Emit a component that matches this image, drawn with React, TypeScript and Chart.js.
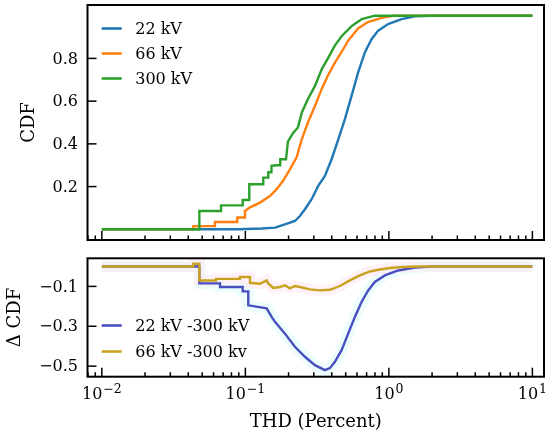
import React, { useEffect, useRef } from 'react';
import { Chart, registerables } from 'chart.js';

Chart.register(...registerables);

const SERIF = '"DejaVu Serif", "Bitstream Vera Serif", "Liberation Serif", serif';

// ---- Top panel: CDF of THD (percent) ----
const thd22: number[] = [0.01, 0.09, 0.13, 0.1608, 0.1887, 0.2215, 0.24, 0.2601, 0.2896, 0.3218, 0.3584, 0.399, 0.4436, 0.4938, 0.5497, 0.6109, 0.6803, 0.7573, 0.8419, 0.9883, 1.225, 1.516, 1.981, 10];
const cdf22: number[] = [0, 0, 0.004, 0.008, 0.023, 0.039, 0.062, 0.094, 0.141, 0.203, 0.25, 0.328, 0.42, 0.516, 0.625, 0.735, 0.828, 0.89, 0.93, 0.961, 0.984, 0.997, 1.0, 1.0];

const thd66: number[] = [0.01, 0.0434, 0.0434, 0.0614, 0.0614, 0.0879, 0.0879, 0.0994, 0.0994, 0.1077, 0.1264, 0.1484, 0.1652, 0.1827, 0.2044, 0.2277, 0.2467, 0.273, 0.3053, 0.34, 0.376, 0.4207, 0.4684, 0.52, 0.61, 0.714, 0.893, 1.1, 10];
const cdf66: number[] = [0, 0, 0.015, 0.015, 0.034, 0.034, 0.055, 0.055, 0.086, 0.103, 0.125, 0.156, 0.188, 0.226, 0.281, 0.337, 0.42, 0.5, 0.577, 0.656, 0.72, 0.78, 0.83, 0.883, 0.94, 0.97, 0.99, 1.0, 1.0];

const thd300: number[] = [0.01, 0.0478, 0.0478, 0.0677, 0.0677, 0.0958, 0.0958, 0.1065, 0.1065, 0.1333, 0.1333, 0.1444, 0.1444, 0.152, 0.152, 0.165, 0.175, 0.175, 0.192, 0.198, 0.2145, 0.2325, 0.248, 0.273, 0.305, 0.341, 0.376, 0.42, 0.47, 0.552, 0.648, 0.798, 10];
const cdf300: number[] = [0, 0, 0.086, 0.086, 0.112, 0.112, 0.137, 0.137, 0.211, 0.211, 0.242, 0.242, 0.267, 0.267, 0.297, 0.3, 0.3, 0.328, 0.328, 0.41, 0.45, 0.477, 0.548, 0.61, 0.67, 0.75, 0.8, 0.86, 0.905, 0.952, 0.984, 1.0, 1.0];

// ---- Bottom panel: difference of CDFs ----
const thdD22: number[] = [0.01, 0.0478, 0.0478, 0.0666, 0.0666, 0.0958, 0.0958, 0.1048, 0.1048, 0.1408, 0.1525, 0.1608, 0.1887, 0.2215, 0.2601, 0.3053, 0.3584, 0.3883, 0.4207, 0.4684, 0.5205, 0.5796, 0.6452, 0.7173, 0.7986, 0.9374, 1.16, 1.516, 1.981, 10];
const dCdf22: number[] = [0, 0, -0.085, -0.085, -0.103, -0.103, -0.125, -0.125, -0.195, -0.21, -0.253, -0.278, -0.337, -0.403, -0.453, -0.495, -0.52, -0.51, -0.478, -0.42, -0.337, -0.253, -0.178, -0.12, -0.078, -0.045, -0.02, -0.006, 0, 0];

const thdD66: number[] = [0.01, 0.0434, 0.0434, 0.0478, 0.0478, 0.0625, 0.0625, 0.0918, 0.0918, 0.1077, 0.1077, 0.1264, 0.1408, 0.1444, 0.1565, 0.1742, 0.1887, 0.2044, 0.2215, 0.24, 0.2818, 0.3307, 0.3883, 0.4558, 0.535, 0.6279, 0.737, 0.865, 1.016, 1.251, 1.6, 10];
const dCdf66: number[] = [0, 0, 0.014, 0.014, -0.07, -0.07, -0.062, -0.062, -0.053, -0.053, -0.082, -0.087, -0.07, -0.085, -0.108, -0.103, -0.095, -0.11, -0.098, -0.103, -0.115, -0.12, -0.117, -0.098, -0.07, -0.045, -0.025, -0.015, -0.008, -0.003, 0, 0];

// ---- Labels / ticks ----
const topSeriesLabels = ['22 kV', '66 kV', '300 kV'];
const bottomSeriesLabels = ['22 kV -300 kV', '66 kV -300 kv'];
const xMajorTicks: number[] = [0.01, 0.1, 1, 10];
const xTickExponents: string[] = ['\u22122', '\u22121', '0', '1'];
const topYTicks: number[] = [0.2, 0.4, 0.6, 0.8];
const bottomYTicks: number[] = [-0.1, -0.3, -0.5];
const xTitle = 'THD (Percent)';
const topYTitle = 'CDF';
const bottomYTitle = '\u0394 CDF';

const C22 = '#1f77b4';
const C66 = '#ff7f0e';
const C300 = '#2ca02c';
const CD22 = '#4a4fc0';
const CD66 = '#c9a21f';

const X_MIN = Math.pow(10, -2.1);
const X_MAX = Math.pow(10, 1.081);

const pairs = (xs: number[], ys: number[]) => xs.map((x, i) => ({ x, y: ys[i] }));

type Decor = {
  yTicks: number[];
  yTitle: string;
  yTitleX: number;
  showXLabels: boolean;
  legend: { label: string; color: string }[];
  legendY0: number;
  legendDy: number;
};

function makeDecor(d: Decor) {
  return {
    id: 'decor',
    afterDraw(chart: any) {
      const { ctx, chartArea: a, scales } = chart;
      const xs = scales.x;
      const ys = scales.y;
      ctx.save();
      // frame
      ctx.strokeStyle = '#000';
      ctx.lineWidth = 2;
      ctx.strokeRect(a.left, a.top, a.right - a.left, a.bottom - a.top);
      // x ticks (inward)
      ctx.lineWidth = 1.5;
      for (let e = -3; e <= 1; e++) {
        for (let k = 1; k <= 9; k++) {
          const v = k * Math.pow(10, e);
          if (v < xs.min || v > xs.max) continue;
          const px = xs.getPixelForValue(v);
          const len = k === 1 ? 9 : 4.5;
          ctx.beginPath();
          ctx.moveTo(px, a.bottom);
          ctx.lineTo(px, a.bottom - len);
          ctx.stroke();
        }
      }
      // y ticks (inward) + labels
      ctx.fillStyle = '#000';
      ctx.font = `16px ${SERIF}`;
      ctx.textAlign = 'right';
      ctx.textBaseline = 'middle';
      d.yTicks.forEach((v) => {
        const py = ys.getPixelForValue(v);
        ctx.beginPath();
        ctx.moveTo(a.left, py);
        ctx.lineTo(a.left + 9, py);
        ctx.stroke();
        ctx.fillText(v.toFixed(1).replace('-', '\u2212'), a.left - 9.5, py + 1);
      });
      // x tick labels
      if (d.showXLabels) {
        xMajorTicks.forEach((v, i) => {
          const px = xs.getPixelForValue(v);
          ctx.font = `16px ${SERIF}`;
          const w1 = ctx.measureText('10').width;
          ctx.font = `12.5px ${SERIF}`;
          const w2 = ctx.measureText(xTickExponents[i]).width;
          const start = px - (w1 + w2 + 1) / 2;
          ctx.textAlign = 'left';
          ctx.textBaseline = 'alphabetic';
          ctx.font = `16px ${SERIF}`;
          ctx.fillText('10', start, a.bottom + 22.3);
          ctx.font = `12.5px ${SERIF}`;
          ctx.fillText(xTickExponents[i], start + w1 + 1, a.bottom + 16.5);
        });
        ctx.font = `18px ${SERIF}`;
        ctx.textAlign = 'center';
        ctx.textBaseline = 'alphabetic';
        ctx.fillText(xTitle, (a.left + a.right) / 2, a.bottom + 49.8);
      }
      // y title
      ctx.save();
      ctx.translate(d.yTitleX, (a.top + a.bottom) / 2);
      ctx.rotate(-Math.PI / 2);
      ctx.font = `18px ${SERIF}`;
      ctx.textAlign = 'center';
      ctx.textBaseline = 'middle';
      ctx.fillText(d.yTitle, 0, 0);
      ctx.restore();
      // legend
      d.legend.forEach((e, i) => {
        const y = d.legendY0 + i * d.legendDy;
        const x0 = a.left + 14.2;
        ctx.strokeStyle = e.color;
        ctx.lineWidth = 2.6;
        ctx.beginPath();
        ctx.moveTo(x0, y);
        ctx.lineTo(x0 + 20, y);
        ctx.stroke();
        ctx.fillStyle = '#000';
        ctx.font = `16px ${SERIF}`;
        ctx.textAlign = 'left';
        ctx.textBaseline = 'middle';
        ctx.fillText(e.label, x0 + 33.5, y + 1);
      });
      ctx.restore();
    },
  };
}

const baseOptions = (padding: any, yMin: number, yMax: number) => ({
  animation: false as const,
  responsive: false,
  maintainAspectRatio: false,
  layout: { padding },
  scales: {
    x: { type: 'logarithmic' as const, min: X_MIN, max: X_MAX, display: false },
    y: { type: 'linear' as const, min: yMin, max: yMax, display: false },
  },
  plugins: { legend: { display: false }, tooltip: { enabled: false } },
  elements: { point: { radius: 0 }, line: { borderWidth: 2.4, tension: 0 } },
  events: [] as any[],
});

export default function App() {
  const topRef = useRef<HTMLCanvasElement | null>(null);
  const botRef = useRef<HTMLCanvasElement | null>(null);

  useEffect(() => {
    if (!topRef.current || !botRef.current) return;
    const top = new Chart(topRef.current, {
      type: 'line',
      data: {
        datasets: [
          { label: topSeriesLabels[2], data: pairs(thd300, cdf300), borderColor: C300, order: 1 },
          { label: topSeriesLabels[1], data: pairs(thd66, cdf66), borderColor: C66, order: 2 },
          { label: topSeriesLabels[0], data: pairs(thd22, cdf22), borderColor: C22, order: 3 },
        ],
      },
      options: baseOptions({ left: 87.5, right: 6, top: 5, bottom: 10 }, -0.05, 1.05) as any,
      plugins: [
        makeDecor({
          yTicks: topYTicks,
          yTitle: topYTitle,
          yTitleX: 29.5,
          showXLabels: false,
          legend: [
            { label: topSeriesLabels[0], color: C22 },
            { label: topSeriesLabels[1], color: C66 },
            { label: topSeriesLabels[2], color: C300 },
          ],
          legendY0: 28.5,
          legendDy: 25,
        }),
      ],
    });
    const bot = new Chart(botRef.current, {
      type: 'line',
      data: {
        datasets: [
          { label: bottomSeriesLabels[1], data: pairs(thdD66, dCdf66), borderColor: CD66, order: 1 },
          { label: bottomSeriesLabels[0], data: pairs(thdD22, dCdf22), borderColor: CD22, order: 2 },
          { label: 'halo66', data: pairs(thdD66, dCdf66), borderColor: 'rgba(253,232,244,0.6)', borderWidth: 11, order: 9 },
          { label: 'halo22', data: pairs(thdD22, dCdf22), borderColor: 'rgba(222,252,252,0.6)', borderWidth: 11, order: 10 },
        ],
      },
      options: baseOptions({ left: 87.5, right: 6, top: 8.3, bottom: 60.3 }, -0.553, 0.041) as any,
      plugins: [
        makeDecor({
          yTicks: bottomYTicks,
          yTitle: bottomYTitle,
          yTitleX: 15.5,
          showXLabels: true,
          legend: [
            { label: bottomSeriesLabels[0], color: CD22 },
            { label: bottomSeriesLabels[1], color: CD66 },
          ],
          legendY0: 75.5,
          legendDy: 26,
        }),
      ],
    });
    return () => {
      top.destroy();
      bot.destroy();
    };
  }, []);

  return (
    <div style={{ position: 'absolute', left: 0, top: 0, width: 550, height: 437, background: '#fff' }}>
      <canvas ref={topRef} width={550} height={250} style={{ position: 'absolute', left: 0, top: 0, width: 550, height: 250 }} />
      <canvas ref={botRef} width={550} height={187} style={{ position: 'absolute', left: 0, top: 250, width: 550, height: 187 }} />
    </div>
  );
}
